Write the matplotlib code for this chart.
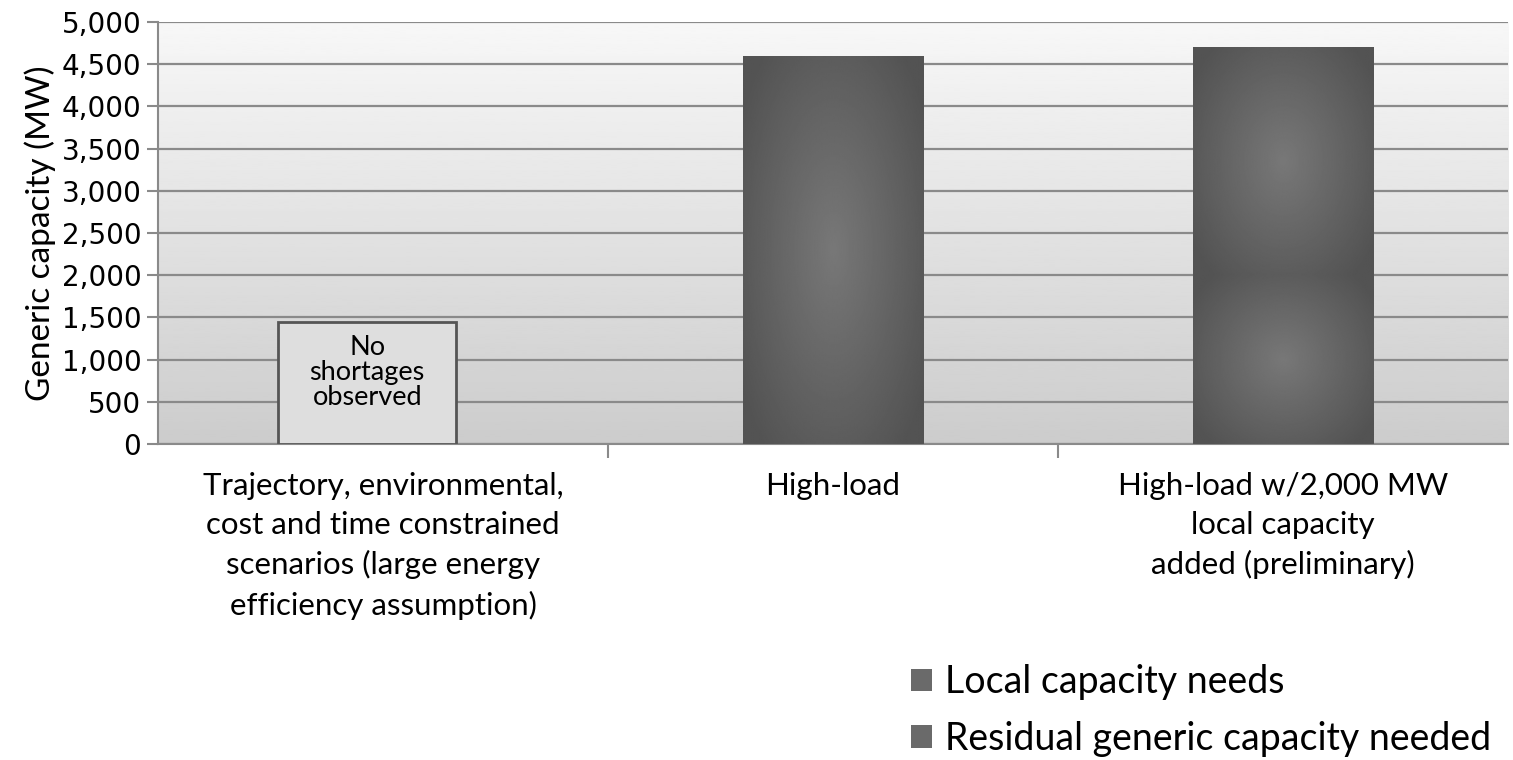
import numpy as np
import matplotlib
matplotlib.use("Agg")
import matplotlib.pyplot as plt
from matplotlib.patches import Rectangle, Patch

categories = [
    "Trajectory, environmental,\ncost and time constrained\nscenarios (large energy\nefficiency assumption)",
    "High-load",
    "High-load w/2,000 MW\nlocal capacity\nadded (preliminary)",
]
local_needs = [0, 0, 2000]
residual_needs = [0, 4600, 2700]
yticks = [0, 500, 1000, 1500, 2000, 2500, 3000, 3500, 4000, 4500, 5000]
note_text = "No\nshortages\nobserved"

plt.rcParams['font.family'] = ['Lato', 'DejaVu Sans']
fig = plt.figure(figsize=(15.13, 7.6), dpi=100)
ax = fig.add_axes([0.1044, 0.4158, 0.8923, 0.5552])

# background gradient
grad = np.linspace(0.80, 0.97, 256).reshape(-1, 1)
ax.imshow(grad, extent=[-0.5, 2.5, 0, 5000], aspect='auto', cmap='gray',
          vmin=0, vmax=1, origin='lower', zorder=0)

ax.set_xlim(-0.5, 2.5)
ax.set_ylim(0, 5000)
ax.set_yticks(yticks)
ax.set_yticklabels([f"{v:,}" for v in yticks], fontsize=20, family='DejaVu Sans')
ax.yaxis.grid(True, color='#8a8a8a', linewidth=1.6, zorder=1)
ax.set_axisbelow(True)
for s in ['top', 'right']:
    ax.spines[s].set_visible(False)
for s in ['left', 'bottom']:
    ax.spines[s].set_color('#8a8a8a')
    ax.spines[s].set_linewidth(1.5)
ax.tick_params(axis='y', length=8, color='#8a8a8a', width=1.5, pad=4)
ax.set_ylabel("Generic capacity (MW)", fontsize=24, labelpad=4)

x = np.arange(len(categories))
ax.set_xticks(x)
ax.set_xticklabels(categories, fontsize=22.5, linespacing=1.48)
ax.tick_params(axis='x', length=0, pad=20)
ax.set_xticks([0.5, 1.5], minor=True)
ax.tick_params(axis='x', which='minor', length=10, color='#8a8a8a', width=1.5)

# radial gradient for bars
yy, xx = np.mgrid[-1:1:200j, -1:1:200j]
rad = np.sqrt((xx * 1.0) ** 2 + (yy * 0.9) ** 2)
shade = 0.47 - 0.12 * np.clip(rad, 0, 1.2)

bar_colors = ['#5e5e5e', '#626262']
bottoms = np.zeros(len(categories))
for vals, col in [(local_needs, bar_colors[0]), (residual_needs, bar_colors[1])]:
    bars = ax.bar(x, vals, width=0.4, bottom=bottoms, color=col, zorder=2)
    for b in bars:
        h = b.get_height()
        if h <= 0:
            continue
        x0, y0, w = b.get_x(), b.get_y(), b.get_width()
        im = ax.imshow(shade, extent=[x0, x0 + w, y0, y0 + h], aspect='auto',
                       cmap='gray', vmin=0, vmax=1, zorder=3)
        im.set_clip_path(b)
    bottoms += np.array(vals)

# note box
box = Rectangle((-0.233, 0), 0.395, 1450, facecolor='#dedede', edgecolor='#555555',
                linewidth=2, zorder=4)
ax.add_patch(box)
ax.text(-0.035, 845, note_text, ha='center', va='center', fontsize=19.5,
        linespacing=1.0, zorder=5)

handles = [Patch(facecolor='#6a6a6a'), Patch(facecolor='#6a6a6a')]
fig.legend(handles, ["Local capacity needs", "Residual generic capacity needed"],
           loc='center left', bbox_to_anchor=(0.58, 0.065), frameon=False,
           fontsize=27, handlelength=0.55, handleheight=0.55, handletextpad=0.35,
           labelspacing=0.55)

fig.savefig("out.png", dpi=100)
